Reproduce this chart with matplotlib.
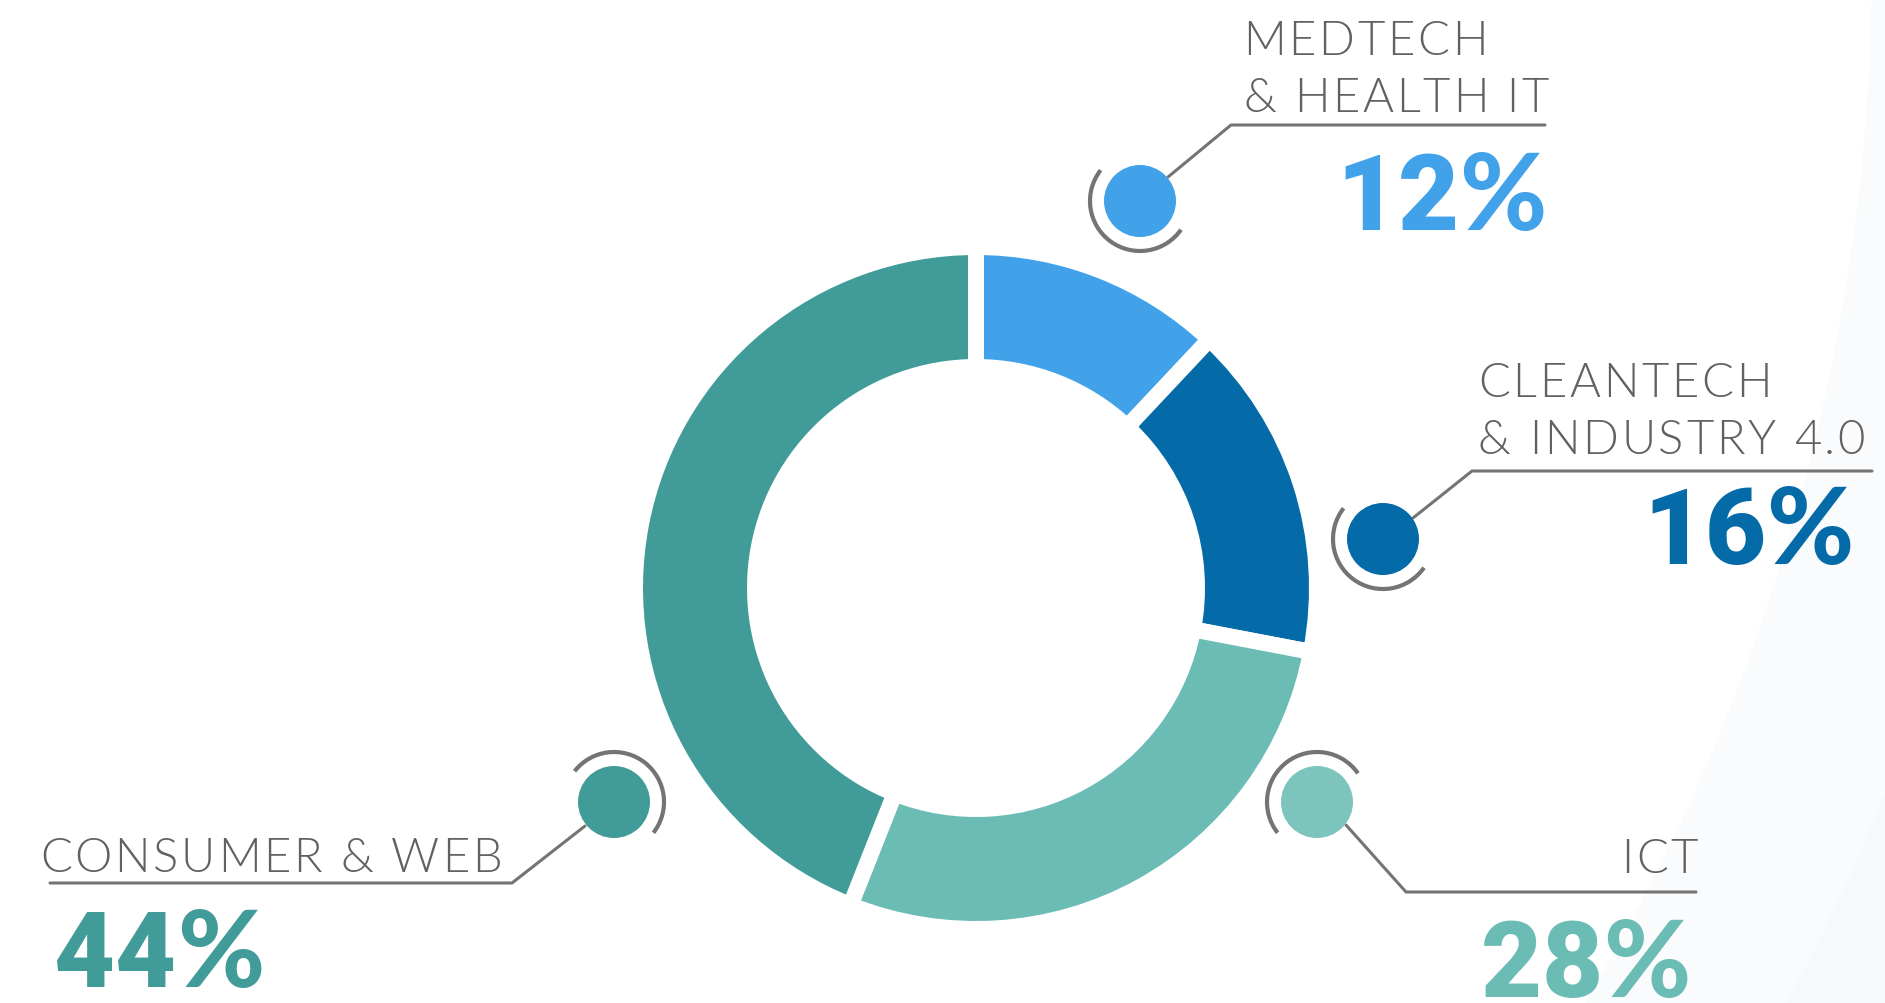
import matplotlib.pyplot as plt
from matplotlib.font_manager import FontProperties, findfont, get_font
from matplotlib.ft2font import LoadFlags
from matplotlib.patches import Arc, Circle

W, H = 1885, 1004

# data
sectors = ["MEDTECH\n& HEALTH IT", "CLEANTECH\n& INDUSTRY 4.0", "ICT", "CONSUMER & WEB"]
shares = [12, 16, 28, 44]
ring_colors = ["#41a2ea", "#046ba8", "#6bbcb5", "#419c99"]
dot_colors = ["#41a2ea", "#046ba8", "#7dc4bc", "#419c99"]

TEXT_GREY = "#616161"
LINE_GREY = "#747474"

# weight 300 = Lato Light ("light" in matplotlib maps to 200 / Thin)
LABEL_FONT = FontProperties(family="Lato", weight=300, size=34)
DIGIT_FONT = FontProperties(family=["Roboto", "Lato"], weight=900, size=76)
PERCENT_FONT = FontProperties(family="Lato", weight=900, size=76)
LABEL_TRACK = 2.8

# callout layout in pixel coords (y grows downward)
callouts = [
    dict(dot=(1140, 202), arc=(35, 218),
         leader=[(1168, 178), (1231, 126), (1545, 126)],
         label_xy=(1243, 55), label_ha="left", num_xy=(1547, 230), num_ha="right"),
    dict(dot=(1383, 540), arc=(35, 218),
         leader=[(1413, 519), (1472, 472), (1872, 472)],
         label_xy=(1478, 397), label_ha="left", num_xy=(1854, 564), num_ha="right"),
    dict(dot=(1317, 803), arc=(142, 325),
         leader=[(1346, 826), (1406, 893), (1696, 893)],
         label_xy=(1698, 873), label_ha="right", num_xy=(1691, 997), num_ha="right"),
    dict(dot=(614, 803), arc=(-142, 38),
         leader=[(585, 827), (512, 884), (50, 884)],
         label_xy=(40, 872), label_ha="left", num_xy=(54, 987), num_ha="left"),
]


def advances(text, prop):
    font = get_font(findfont(prop), hinting_factor=1)
    font.set_size(prop.get_size_in_points(), 100)
    return [font.load_char(ord(ch), flags=LoadFlags.NO_HINTING).linearHoriAdvance / 65536
            for ch in text]


def glyph_run(ax, x, y, pieces, ha, track, color):
    # pieces: list of (text, fontprops); glyphs are placed one by one so we
    # get letter-spacing and can mix fonts inside one label
    glyphs = [(ch, prop, a) for s, prop in pieces for ch, a in zip(s, advances(s, prop))]
    total = sum(g[2] for g in glyphs) + track * (len(glyphs) - 1)
    pen = x if ha == "left" else x - total
    for ch, prop, a in glyphs:
        if ch != " ":
            ax.text(pen, y, ch, ha="left", va="baseline", fontproperties=prop, color=color)
        pen += a + track


fig = plt.figure(figsize=(W / 100, H / 100), dpi=100)
fig.patch.set_facecolor("#f6f8f9")
ax = fig.add_axes([0, 0, 1, 1])

# donut: the white stroke eats half the edge width on each side
gap = 16
ax.pie(
    shares,
    colors=ring_colors,
    center=(976, 589),
    radius=333 + gap / 2,
    startangle=-90,
    counterclock=True,
    wedgeprops=dict(width=104 + gap, edgecolor="white", linewidth=gap * 0.72),
)

# faint background sweep on the right
ax.add_patch(Circle((-157, -37), 2205, facecolor="#fafbfc", edgecolor="none", zorder=0))
ax.add_patch(Circle((-157, -37), 2029, facecolor="white", edgecolor="none", zorder=0))

for name, share, dot_c, num_c, c in zip(sectors, shares, dot_colors, ring_colors, callouts):
    xs = [p[0] for p in c["leader"]]
    ys = [p[1] for p in c["leader"]]
    ax.plot(xs, ys, color=LINE_GREY, linewidth=2.2, solid_capstyle="round", zorder=2)
    ax.add_patch(Circle(c["dot"], 36, facecolor=dot_c, edgecolor="none", zorder=3))
    ax.add_patch(Arc(c["dot"], 100, 100, theta1=c["arc"][0], theta2=c["arc"][1],
                     color=LINE_GREY, linewidth=3.0, zorder=3))

    lx, ly = c["label_xy"]
    for i, line in enumerate(name.split("\n")):
        glyph_run(ax, lx, ly + i * 57, [(line, LABEL_FONT)], c["label_ha"], LABEL_TRACK, TEXT_GREY)
    nx, ny = c["num_xy"]
    glyph_run(ax, nx, ny, [(str(share), DIGIT_FONT), ("%", PERCENT_FONT)],
              c["num_ha"], 0, num_c)

ax.set_xlim(0, W)
ax.set_ylim(H, 0)
ax.set_aspect("equal")
ax.axis("off")

fig.savefig("out.png", dpi=100, facecolor=fig.get_facecolor())
